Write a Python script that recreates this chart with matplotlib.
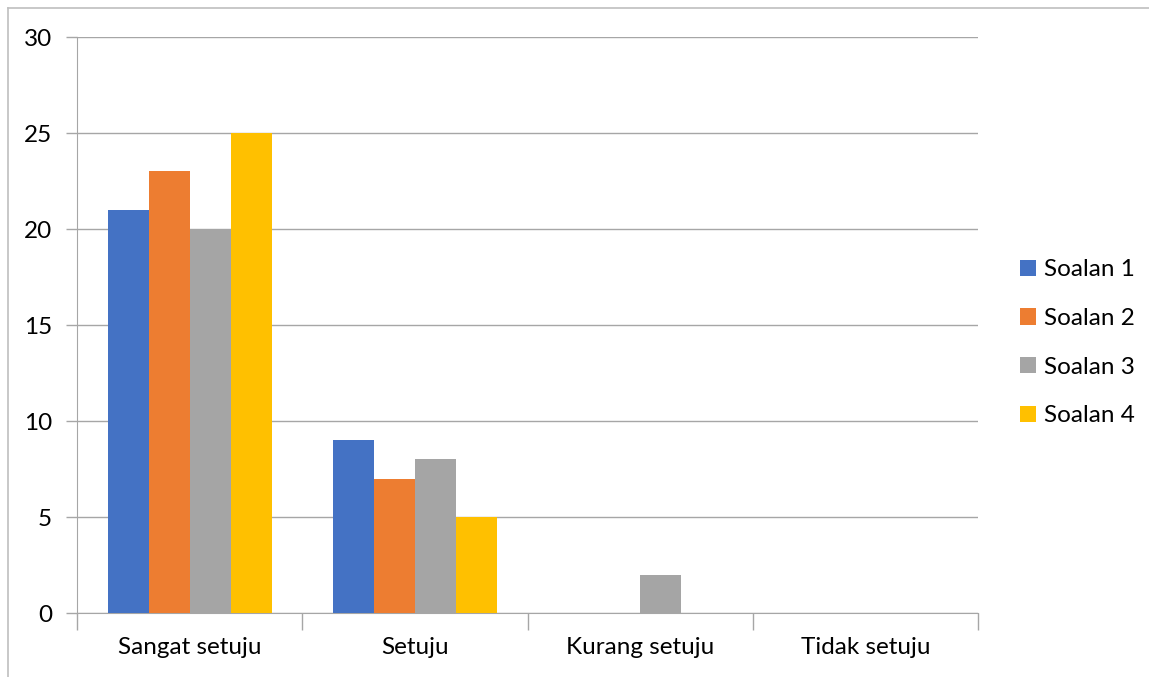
import numpy as np
import matplotlib.pyplot as plt
from matplotlib.lines import Line2D

categories = ['Sangat setuju', 'Setuju', 'Kurang setuju', 'Tidak setuju']
series_names = ['Soalan 1', 'Soalan 2', 'Soalan 3', 'Soalan 4']
soalan1 = [21, 9, 0, 0]
soalan2 = [23, 7, 0, 0]
soalan3 = [20, 8, 2, 0]
soalan4 = [25, 5, 0, 0]
colors = ['#4472C4', '#ED7D31', '#A5A5A5', '#FFC000']

plt.rcParams['font.family'] = ['Lato', 'DejaVu Sans']
grid_col = '#A6A6A6'
fs = 17.5

fig = plt.figure(figsize=(11.49, 6.77), dpi=100)
axe = fig.add_axes([77 / 1149, 1 - 613 / 677, (978 - 77) / 1149, (613 - 37) / 677])

x = np.arange(len(categories))
width = 0.182
all_values = [soalan1, soalan2, soalan3, soalan4]
for i, vals in enumerate(all_values):
    axe.bar(x + (i - 1.5) * width, vals, width, color=colors[i],
            label=series_names[i], zorder=3)

axe.set_xlim(-0.5, len(categories) - 0.5)
axe.set_ylim(0, 30)
axe.set_yticks(range(0, 31, 5))
axe.grid(axis='y', color=grid_col, linewidth=1, zorder=0)

axe.set_xticks(x)
axe.set_xticklabels(categories)
axe.set_xticks(np.arange(-0.5, len(categories), 1), minor=True)
axe.tick_params(axis='x', which='major', length=0, pad=17, labelsize=fs)
axe.tick_params(axis='x', which='minor', length=12, color=grid_col, width=1)
axe.tick_params(axis='y', length=8, color=grid_col, width=1, pad=10, labelsize=fs)

for s in ['top', 'right']:
    axe.spines[s].set_visible(False)
for s in ['left', 'bottom']:
    axe.spines[s].set_color(grid_col)

axe.legend(loc='center left', bbox_to_anchor=(1.036, 0.469), frameon=False,
           fontsize=fs, handlelength=0.65, handleheight=0.65, handletextpad=0.35,
           labelspacing=1.14, borderaxespad=0)

# outer border (top and left only)
fig.add_artist(Line2D([8 / 1149, 8 / 1149], [0, 1 - 8 / 677], color='#BFBFBF', linewidth=1.2))
fig.add_artist(Line2D([8 / 1149, 1], [1 - 8 / 677, 1 - 8 / 677], color='#BFBFBF', linewidth=1.2))

fig.savefig('out.png', dpi=100)
